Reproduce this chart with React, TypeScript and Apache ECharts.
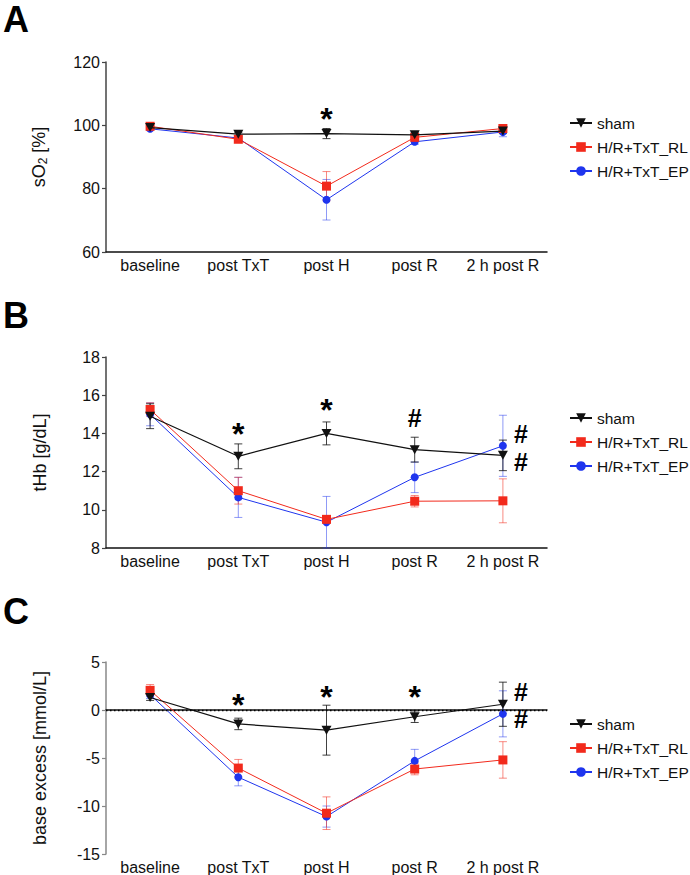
import React, { useEffect, useRef } from "react";
import * as echarts from "echarts";

const categories = ["baseline", "post TxT", "post H", "post R", "2 h post R"];
const seriesNames = ["sham", "H/R+TxT_RL", "H/R+TxT_EP"];

// Panel A: sO2 [%]
const so2Sham = [99.3, 97.2, 97.4, 97.0, 98.2];
const so2ShamErr = [0.5, 0.6, 1.6, 0.6, 0.8];
const so2RL = [99.7, 95.6, 80.8, 96.2, 99.0];
const so2RLErr = [0.7, 0.8, 4.6, 0.8, 1.0];
const so2EP = [98.9, 96.0, 76.5, 94.8, 97.9];
const so2EPErr = [0.5, 0.7, 6.4, 0.8, 1.5];
const so2Ticks = { min: 60, max: 120, interval: 20 };

// Panel B: tHb [g/dL]
const thbSham = [14.9, 12.8, 14.0, 13.15, 12.85];
const thbShamErr = [0.65, 0.65, 0.6, 0.65, 0.8];
const thbRL = [15.25, 11.0, 9.5, 10.45, 10.47];
const thbRLErr = [0.35, 0.7, 0.15, 0.3, 1.15];
const thbEP = [15.0, 10.65, 9.35, 11.7, 13.35];
const thbEPErr = [0.6, 1.05, 1.35, 0.8, 1.6];
const thbTicks = { min: 8, max: 18, interval: 2 };

// Panel C: base excess [mmol/L]
const beSham = [1.3, -1.45, -2.1, -0.7, 0.6];
const beShamErr = [0.3, 0.6, 2.6, 0.6, 2.3];
const beRL = [2.05, -6.05, -10.75, -6.15, -5.2];
const beRLErr = [0.6, 0.9, 1.7, 0.6, 1.9];
const beEP = [1.6, -7.0, -11.1, -5.3, -0.4];
const beEPErr = [0.4, 0.9, 1.1, 1.2, 2.4];
const beTicks = { min: -15, max: 5, interval: 5 };

// Significance marks: [category index, y value]
const so2Stars = [[2, 104.2]];
const so2Hash: number[][] = [];
const so2HashSide: number[][] = [];
const thbStars = [[1, 14.35], [2, 15.6]];
const thbHash = [[3, 14.8]];
const thbHashSide = [[4, 13.95], [4, 12.5]];
const beStars = [[1, 1.2], [2, 2.1], [3, 2.1]];
const beHash: number[][] = [];
const beHashSide = [[4, 1.9], [4, -0.97]];

const FONT = "Liberation Sans, Arial, Helvetica, sans-serif";
const BLACK = "#111111";
const RED = "#f22a1c";
const BLUE = "#1f35ee";
const RED_ERR = "rgba(242,42,28,0.55)";
const BLUE_ERR = "rgba(31,53,238,0.5)";
const BLACK_ERR = "rgba(17,17,17,0.8)";
const TRI_DOWN = "path://M0,0L10,0L5,9Z";

const grids = [
  { left: 106, top: 62, width: 441, height: 190 },
  { left: 106, top: 357, width: 441, height: 191 },
  { left: 106, top: 662, width: 441, height: 192 },
];

function errRender(color: string) {
  return (params: any, api: any) => {
    const x = api.value(0);
    const lo = api.coord([x, api.value(1)]);
    const hi = api.coord([x, api.value(2)]);
    const w = 4;
    const style = { stroke: color, lineWidth: 1 };
    return {
      type: "group",
      children: [
        { type: "line", shape: { x1: lo[0], y1: lo[1], x2: hi[0], y2: hi[1] }, style },
        { type: "line", shape: { x1: lo[0] - w, y1: lo[1], x2: lo[0] + w, y2: lo[1] }, style },
        { type: "line", shape: { x1: hi[0] - w, y1: hi[1], x2: hi[0] + w, y2: hi[1] }, style },
      ],
    };
  };
}

function panelSeries(
  idx: number,
  sham: number[],
  shamErr: number[],
  rl: number[],
  rlErr: number[],
  ep: number[],
  epErr: number[],
  stars: number[][],
  hash: number[][],
  hashSide: number[][],
  zeroLine: boolean
) {
  const errData = (m: number[], e: number[]) => m.map((v, i) => [i, v - e[i], v + e[i]]);
  const list: any[] = [];
  const errs: [number[], number[], string][] = [
    [ep, epErr, BLUE_ERR],
    [rl, rlErr, RED_ERR],
    [sham, shamErr, BLACK_ERR],
  ];
  errs.forEach(([m, e, c], k) => {
    list.push({
      type: "custom",
      name: "err" + idx + "_" + k,
      xAxisIndex: idx,
      yAxisIndex: idx,
      renderItem: errRender(c),
      encode: { x: 0, y: [1, 2] },
      data: errData(m, e),
      silent: true,
      z: 2,
    });
  });
  const shamSeries: any = {
    type: "line",
    name: seriesNames[0],
    xAxisIndex: idx,
    yAxisIndex: idx,
    data: sham,
    symbol: TRI_DOWN,
    symbolSize: [10, 9],
    lineStyle: { color: BLACK, width: 1.2 },
    itemStyle: { color: BLACK },
    z: 4,
  };
  if (zeroLine) {
    shamSeries.markLine = {
      silent: true,
      symbol: "none",
      label: { show: false },
      lineStyle: { color: "#000", type: [1.5, 2.5], width: 1.3 },
      data: [{ yAxis: 0 }],
    };
  }
  list.push({
    type: "line",
    name: seriesNames[2],
    xAxisIndex: idx,
    yAxisIndex: idx,
    data: ep,
    symbol: "circle",
    symbolSize: 8,
    lineStyle: { color: BLUE, width: 1 },
    itemStyle: { color: BLUE },
    z: 3,
  });
  list.push({
    type: "line",
    name: seriesNames[1],
    xAxisIndex: idx,
    yAxisIndex: idx,
    data: rl,
    symbol: "rect",
    symbolSize: 9,
    lineStyle: { color: RED, width: 1 },
    itemStyle: { color: RED },
    z: 3,
  });
  list.push(shamSeries);
  const mark = (data: number[][], text: string, dx: number, size: number, dy: number, lh: number) => ({
    type: "scatter",
    name: "mark" + idx + text + dx,
    xAxisIndex: idx,
    yAxisIndex: idx,
    data,
    symbolSize: 1,
    itemStyle: { color: "rgba(0,0,0,0)" },
    silent: true,
    z: 6,
    label: {
      show: true,
      position: "inside",
      formatter: text,
      offset: [dx, dy],
      fontFamily: FONT,
      fontSize: size,
      lineHeight: lh,
      fontWeight: "bold",
      color: "#000",
      textBorderWidth: 0,
      opacity: 1,
    },
  });
  if (stars.length) list.push(mark(stars, "*", 0, 32, 7, 32));
  if (hash.length) list.push(mark(hash, "#", 0, 25, 0, 22));
  if (hashSide.length) list.push(mark(hashSide, "#", 18, 25, 0, 22));
  return list;
}

export default function App() {
  const ref = useRef<HTMLDivElement>(null);
  useEffect(() => {
    document.body.style.margin = "0";
    if (!ref.current) return;
    const chart = echarts.init(ref.current, undefined, { renderer: "svg" });
    const yNames = ["sO{sub|2} [%]", "tHb [g/dL]", "base excess [mmol/L]"];
    const ticks = [so2Ticks, thbTicks, beTicks];
    const yAxisColors = ["#444", "#444", "#888"];
    const legendTops = [110, 405, 711];
    const option: any = {
      animation: false,
      backgroundColor: "#fff",
      textStyle: { fontFamily: FONT },
      grid: grids,
      xAxis: grids.map((_, i) => ({
        type: "category",
        gridIndex: i,
        data: categories,
        boundaryGap: true,
        axisLine: { lineStyle: { color: "#111", width: 1.5 } },
        axisTick: { show: false },
        axisLabel: { color: "#111", fontSize: 16, fontFamily: FONT, margin: 5, interval: 0 },
        splitLine: { show: false },
      })),
      yAxis: grids.map((_, i) => ({
        type: "value",
        gridIndex: i,
        min: ticks[i].min,
        max: ticks[i].max,
        interval: ticks[i].interval,
        name: yNames[i],
        nameLocation: "middle",
        nameGap: 57,
        nameTextStyle: {
          color: "#111",
          fontSize: 18,
          fontFamily: FONT,
          rich: { sub: { fontSize: 12, fontFamily: FONT, color: "#111", padding: [9, 0, 0, 0] } },
        },
        axisLine: { show: true, lineStyle: { color: yAxisColors[i], width: 1.5 } },
        axisTick: { show: true, length: 4, lineStyle: { color: yAxisColors[i], width: 1.2 } },
        axisLabel: { color: "#111", fontSize: 16, fontFamily: FONT, margin: 6 },
        splitLine: { show: false },
      })),
      legend: legendTops.map((t) => ({
        data: seriesNames,
        orient: "vertical",
        left: 564,
        top: t,
        itemWidth: 22,
        itemHeight: 12,
        itemGap: 8,
        textStyle: { fontSize: 15.5, fontFamily: FONT, color: "#111" },
        selectedMode: false,
      })),
      graphic: [
        { type: "text", left: 3, top: 1, style: { text: "A", font: "bold 36px " + FONT, fill: "#000" } },
        { type: "text", left: 3, top: 297, style: { text: "B", font: "bold 36px " + FONT, fill: "#000" } },
        { type: "text", left: 3, top: 593, style: { text: "C", font: "bold 36px " + FONT, fill: "#000" } },
      ],
      series: [
        ...panelSeries(0, so2Sham, so2ShamErr, so2RL, so2RLErr, so2EP, so2EPErr, so2Stars, so2Hash, so2HashSide, false),
        ...panelSeries(1, thbSham, thbShamErr, thbRL, thbRLErr, thbEP, thbEPErr, thbStars, thbHash, thbHashSide, false),
        ...panelSeries(2, beSham, beShamErr, beRL, beRLErr, beEP, beEPErr, beStars, beHash, beHashSide, true),
      ],
    };
    chart.setOption(option);
    return () => chart.dispose();
  }, []);
  return <div ref={ref} style={{ width: 690, height: 875 }} />;
}
